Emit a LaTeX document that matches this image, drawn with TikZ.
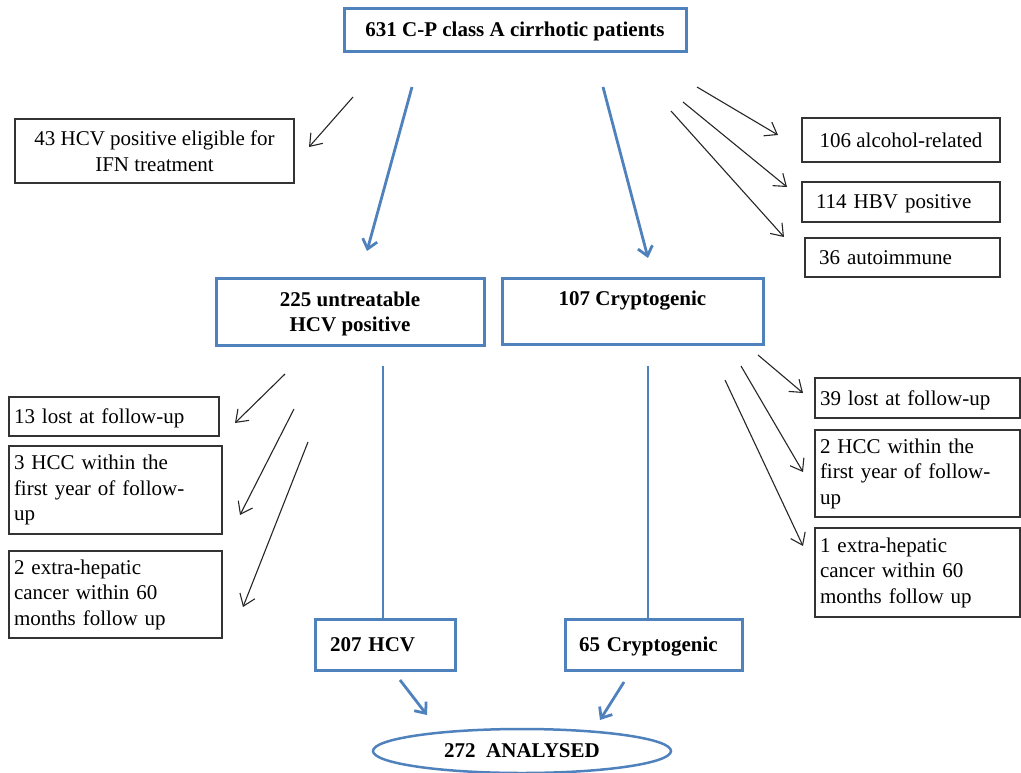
\documentclass[tikz,border=0pt]{standalone}
\usepackage{fontspec}
\setmainfont{Liberation Serif}
\usetikzlibrary{arrows.meta,shapes.geometric}
\definecolor{myblue}{RGB}{79,129,189}
\begin{document}
\begin{tikzpicture}[x=1pt,y=-1pt,
  gbox/.style={draw=black!80, line width=1.1pt, fill=white, inner ysep=0pt, font=\fontsize{21}{25.5}\selectfont},
  bbox/.style={draw=myblue, line width=3pt, fill=white, inner ysep=0pt, font=\bfseries\fontsize{21}{25.5}\selectfont},
  oneline/.style={text depth=0pt},
  karrow/.style={draw=black!85, line width=1.1pt, -{Straight Barb[length=11pt,width=16pt]}},
  barrow/.style={draw=myblue, line width=2.8pt, -{Straight Barb[length=9pt,width=15pt]}},
  bline/.style={draw=myblue, line width=2.8pt}]
\useasboundingbox (0,0) rectangle (1021,772);

% boxes
\node[bbox, oneline, minimum width=342pt, minimum height=43pt] (top) at (515,29.5) {631 C-P class A cirrhotic patients};
\node[gbox, oneline, minimum width=279pt, minimum height=64pt, align=center] (ifn) at (154.5,151) {43 HCV positive eligible for\\IFN treatment};
\node[gbox, oneline, minimum width=198pt, minimum height=44pt, inner xsep=0pt] (alc) at (901,140) {106 alcohol-related};
\node[gbox, oneline, minimum width=198pt, minimum height=40pt, text width=170pt, inner xsep=14pt, align=left] (hbv) at (901,202) {114 HBV positive};
\node[gbox, oneline, minimum width=195pt, minimum height=39pt, text width=167pt, inner xsep=14pt, align=left] (aut) at (902.5,257.5) {36 autoimmune};

\node[bbox, oneline, minimum width=268pt, minimum height=67pt, align=center] (untr) at (350,311.5) {225 untreatable\\HCV positive};
\node[bbox, oneline, minimum width=261pt, minimum height=66pt, align=center] (cryp) at (632.5,311) {107 Cryptogenic\\\strut};

\node[gbox, oneline, minimum width=210pt, minimum height=39pt, text width=200pt, inner xsep=5pt, align=left] (lost1) at (114,416.5) {13 lost at follow-up};
\node[gbox, minimum width=213pt, minimum height=88pt, text width=203pt, inner xsep=5pt, align=left] (hcc1) at (115.5,490) {3 HCC within the\\first year of follow-\\up};
\node[gbox, minimum width=213pt, minimum height=87pt, text width=203pt, inner xsep=5pt, align=left] (ext1) at (115.5,594.5) {2 extra-hepatic\\cancer within 60\\months follow up};

\node[gbox, oneline, minimum width=205pt, minimum height=40pt, text width=195pt, inner xsep=5pt, align=left] (lost2) at (917.5,398) {39 lost at follow-up};
\node[gbox, minimum width=205pt, minimum height=87pt, text width=195pt, inner xsep=5pt, align=left] (hcc2) at (917.5,473.5) {2 HCC within the\\first year of follow-\\up};
\node[gbox, minimum width=205pt, minimum height=89pt, text width=195pt, inner xsep=5pt, align=left] (ext2) at (917.5,572.5) {1 extra-hepatic\\cancer within 60\\months follow up};

\node[bbox, oneline, minimum width=140pt, minimum height=51pt, text width=110pt, inner xsep=15pt, align=left] (hcv) at (385,644.5) {207 HCV};
\node[bbox, oneline, minimum width=177pt, minimum height=51pt, text width=149pt, inner xsep=14pt, align=left] (cry2) at (653.5,644.5) {65 Cryptogenic};

\node[ellipse, oneline, draw=myblue, line width=2.5pt, minimum width=298pt, minimum height=44pt, inner sep=0pt, font=\bfseries\fontsize{21}{25.5}\selectfont] (ana) at (522,751) {272~~ANALYSED\hspace{20pt}};

% free-end coordinates
\coordinate (a1s) at (353,97);  \coordinate (a1e) at (309,147);
\coordinate (b1s) at (412,87);  \coordinate (b1e) at (367,251);
\coordinate (b2s) at (603,87);  \coordinate (b2e) at (648,258);
\coordinate (a2s) at (697,87);  \coordinate (a2e) at (778,135);
\coordinate (a3s) at (683,102); \coordinate (a3e) at (787,187);
\coordinate (a4s) at (671,111); \coordinate (a4e) at (784,237);
\coordinate (a5s) at (285,374); \coordinate (a5e) at (235,423);
\coordinate (a6s) at (294,409); \coordinate (a6e) at (240,515);
\coordinate (a7s) at (308,442); \coordinate (a7e) at (243,607);
\coordinate (a8s) at (758,355); \coordinate (a8e) at (803,393);
\coordinate (a9s) at (741,366); \coordinate (a9e) at (803,472);
\coordinate (a10s) at (725,380); \coordinate (a10e) at (803,546);
\coordinate (b3s) at (400,680); \coordinate (b3e) at (427,715);
\coordinate (b4s) at (624,682); \coordinate (b4e) at (600,720);
\coordinate (l1) at (383,366);
\coordinate (l2) at (648,366);

% connectors
\draw[karrow] (a1s) -- (a1e);
\draw[barrow] (b1s) -- (b1e);
\draw[barrow] (b2s) -- (b2e);
\draw[karrow] (a2s) -- (a2e);
\draw[karrow] (a3s) -- (a3e);
\draw[karrow] (a4s) -- (a4e);
\draw[karrow] (a5s) -- (a5e);
\draw[karrow] (a6s) -- (a6e);
\draw[karrow] (a7s) -- (a7e);
\draw[karrow] (a8s) -- (a8e);
\draw[karrow] (a9s) -- (a9e);
\draw[karrow] (a10s) -- (a10e);
\draw[bline] (l1) -- (l1 |- hcv.north);
\draw[bline] (l2) -- (l2 |- cry2.north);
\draw[barrow] (b3s) -- (b3e);
\draw[barrow] (b4s) -- (b4e);
\end{tikzpicture}
\end{document}
